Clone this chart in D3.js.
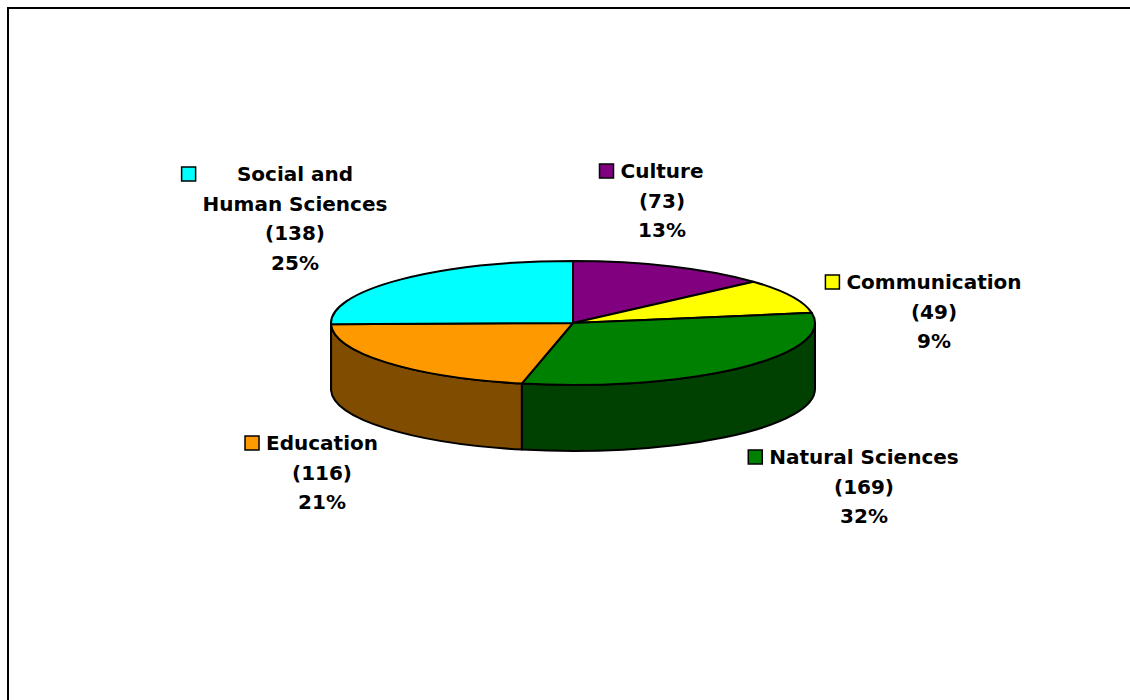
<!DOCTYPE html>
<html>
<head>
<meta charset="utf-8">
<script src="https://cdn.jsdelivr.net/npm/d3@7"></script>
<style>
  html, body { margin: 0; padding: 0; background: #fff; }
  svg { display: block; }
  text { font-family: "DejaVu Sans", sans-serif; font-weight: bold; fill: #000; }
</style>
</head>
<body>
<svg id="chart" width="1130" height="700"></svg>
<script>
// Sector data (clockwise from 12 o'clock)
const categories = ["Culture", "Communication", "Natural Sciences", "Education", "Social and Human Sciences"];
const nameLines = [["Culture"], ["Communication"], ["Natural Sciences"], ["Education"], ["Social and", "Human Sciences"]];
const counts = [73, 49, 169, 116, 138];
const percentLabels = ["13%", "9%", "32%", "21%", "25%"];
const colors = ["#800080", "#FFFF00", "#008000", "#FF9900", "#00FFFF"];

// Label anchors: centre x and centre of first text line
const labelAnchors = [
  [662, 171],
  [934, 282],
  [864, 457],
  [322, 443],
  [295, 174]
];

const svg = d3.select("#chart");

// frame
svg.append("rect")
  .attr("x", 8).attr("y", 8)
  .attr("width", 1140).attr("height", 720)
  .attr("fill", "none").attr("stroke", "#000").attr("stroke-width", 2);

// ellipse geometry of the tilted pie
const cx = 573, cy = 323, rx = 242, ry = 62, depth = 66;

const pie = d3.pie().sort(null).value(d => d)
  .startAngle(0).endAngle(2 * Math.PI);
const arcs = pie(counts);

const pt = (a, dy = 0) => [cx + rx * Math.sin(a), cy - ry * Math.cos(a) + dy];
const f = p => p[0].toFixed(2) + "," + p[1].toFixed(2);

function darker(c) {
  const r = d3.rgb(c);
  return d3.rgb(r.r * 0.5, r.g * 0.5, r.b * 0.5).formatHex();
}

// visible side walls (front half: angles between pi/2 and 3pi/2)
const walls = svg.append("g");
arcs.forEach((d, i) => {
  const s = Math.max(d.startAngle, Math.PI / 2);
  const e = Math.min(d.endAngle, 3 * Math.PI / 2);
  if (s >= e) return;
  const large = (e - s) > Math.PI ? 1 : 0;
  const path = "M" + f(pt(s)) +
    " A" + rx + "," + ry + " 0 " + large + " 1 " + f(pt(e)) +
    " L" + f(pt(e, depth)) +
    " A" + rx + "," + ry + " 0 " + large + " 0 " + f(pt(s, depth)) + " Z";
  walls.append("path")
    .attr("d", path)
    .attr("fill", darker(colors[i]))
    .attr("stroke", "#000").attr("stroke-width", 2)
    .attr("stroke-linejoin", "round");
});

// top faces
const tops = svg.append("g");
arcs.forEach((d, i) => {
  const large = (d.endAngle - d.startAngle) > Math.PI ? 1 : 0;
  const path = "M" + f([cx, cy]) + " L" + f(pt(d.startAngle)) +
    " A" + rx + "," + ry + " 0 " + large + " 1 " + f(pt(d.endAngle)) + " Z";
  tops.append("path")
    .attr("d", path)
    .attr("fill", colors[i])
    .attr("stroke", "#000").attr("stroke-width", 2)
    .attr("stroke-linejoin", "round");
});

// data labels with legend keys
const lineH = 29.5;
const labels = svg.append("g");
categories.forEach((cat, i) => {
  const [lx, ly] = labelAnchors[i];
  const lines = nameLines[i].concat(["(" + counts[i] + ")", percentLabels[i]]);
  const g = labels.append("g");
  let maxW = 0;
  lines.forEach((t, j) => {
    const tx = g.append("text")
      .attr("x", lx).attr("y", ly + j * lineH)
      .attr("text-anchor", "middle")
      .attr("dominant-baseline", "central")
      .attr("font-size", 20)
      .text(t);
    maxW = Math.max(maxW, tx.node().getComputedTextLength());
  });
  g.append("rect")
    .attr("x", lx - maxW / 2 - 7 - 14).attr("y", ly - 7)
    .attr("width", 14).attr("height", 14)
    .attr("fill", colors[i])
    .attr("stroke", "#000").attr("stroke-width", 1.5);
});
</script>
</body>
</html>
